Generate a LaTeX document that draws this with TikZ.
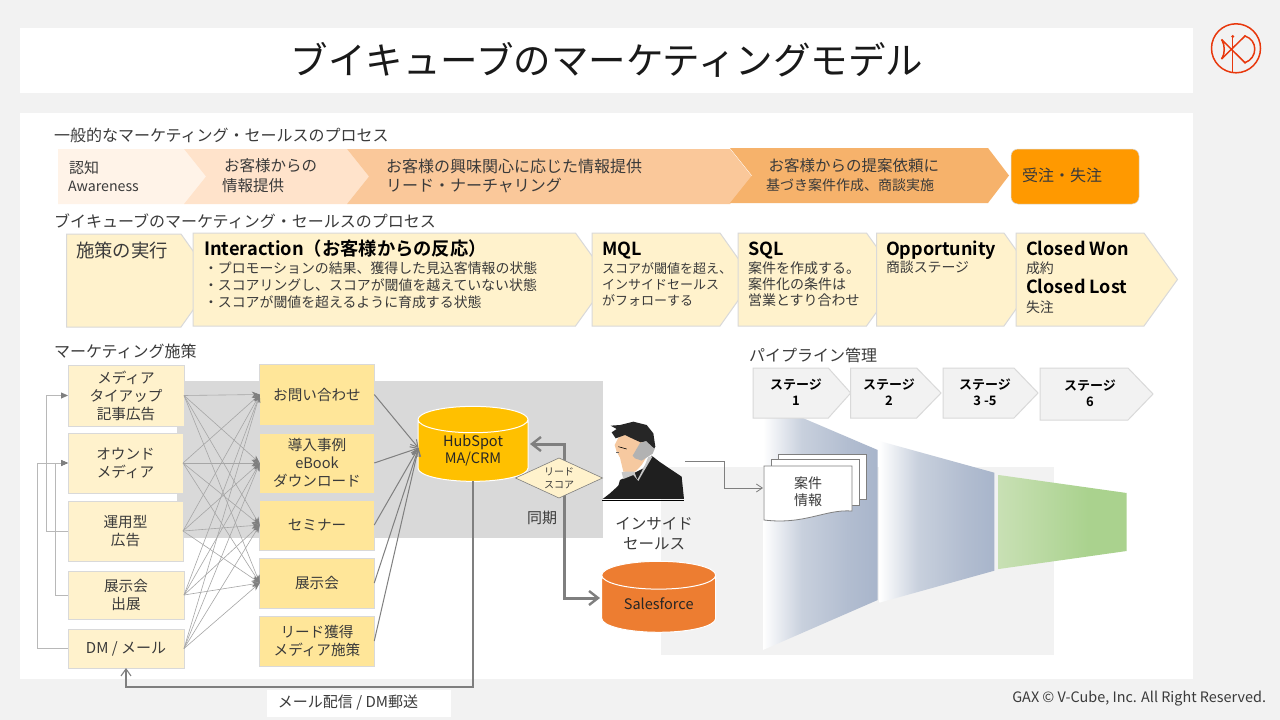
\documentclass[tikz,border=0pt]{standalone}
\usepackage{fontspec}
\setmainfont{Noto Sans CJK JP}[BoldFont={Noto Sans CJK JP Bold}]
\usetikzlibrary{arrows.meta,shapes.geometric}
\definecolor{pagegray}{HTML}{F2F2F2}
\definecolor{zonegray}{HTML}{D9D9D9}
\definecolor{cream}{HTML}{FFF2CC}
\definecolor{butter}{HTML}{FFE699}
\definecolor{edgegray}{HTML}{D9D9D9}
\definecolor{linkgray}{HTML}{A6A6A6}
\definecolor{darkgray}{HTML}{7F7F7F}
\definecolor{ink}{HTML}{3A3A3A}
\definecolor{logored}{HTML}{E8380D}
\definecolor{skin}{HTML}{F6C9A0}
\definecolor{fbzero}{HTML}{FFFFFF}
\definecolor{fbone}{HTML}{C8D0DD}
\definecolor{fbtwo}{HTML}{B2BDD0}
\definecolor{fbthree}{HTML}{A8B5CB}
\definecolor{fgzero}{HTML}{C8E0B4}
\definecolor{fgone}{HTML}{AAD28E}
\pgfdeclarehorizontalshading{funnelblue}{100bp}{color(0bp)=(fbzero); color(25bp)=(fbzero); color(42bp)=(fbone); color(62bp)=(fbtwo); color(75bp)=(fbthree); color(100bp)=(fbthree)}
\pgfdeclarehorizontalshading{funnelgreen}{100bp}{color(0bp)=(fgzero); color(25bp)=(fgzero); color(60bp)=(fgone); color(100bp)=(fgone)}
\newcommand\fs[2]{\fontsize{#1}{#2}\selectfont}
\newcommand\pentshape[6]{% style, x0, x1, tip, y0, y1
  \path[#1] (#2,#5) -- (#3,#5) -- (#4,{(#5+#6)/2}) -- (#3,#6) -- (#2,#6) -- cycle;}
\newcommand\chevshape[7]{% style, x0, notch, x1, tip, y0, y1
  \path[#1] (#2,#6) -- (#4,#6) -- (#5,{(#6+#7)/2}) -- (#4,#7) -- (#2,#7) -- (#3,{(#6+#7)/2}) -- cycle;}
\tikzset{
  x=1pt,y=-1pt,
  every node/.style={inner sep=0pt,outer sep=0pt,text=ink},
  lbl/.style={anchor=west,align=left},
  creambox/.style={draw=edgegray,line width=1pt,fill=cream,align=center,font=\fs{14.6}{18}},
  butterbox/.style={draw=edgegray,line width=1pt,fill=butter,align=center,font=\fs{14.6}{18}},
  pent/.style={draw=edgegray,line width=1pt,fill=cream},
  stagepent/.style={draw=edgegray,line width=1pt,fill=pagegray},
  section/.style={lbl,font=\fs{16}{20}},
  row/.style={lbl,font=\fs{15.5}{19}},
  boldhead/.style={lbl,font=\fs{18}{22}\bfseries,text=black,text height=14pt,text depth=0pt},
  small/.style={lbl,font=\fs{13.9}{16.5}},
  stagelbl/.style={align=center,font=\fs{13}{16}\bfseries,text=black},
  thinlink/.style={draw=linkgray,line width=.6pt,-{Stealth[length=8pt,width=6pt,color=darkgray]}},
  feedback/.style={draw=linkgray!80,line width=.8pt,-{Triangle[length=7pt,width=6pt,color=darkgray]}},
  tohub/.style={draw=darkgray,line width=1pt,-{Straight Barb[length=7pt,width=8pt]}},
  syncarrow/.style={draw=darkgray,line width=3pt,-{Straight Barb[length=9pt,width=14pt,line width=2.4pt]}},
  sheet/.style={draw=darkgray,line width=.8pt,fill=white},
}
\begin{document}
\begin{tikzpicture}
\useasboundingbox (0,0) rectangle (1280,720);
\fill[pagegray] (0,0) rectangle (1280,720);
\fill[white] (20,28) rectangle (1193,93);
\fill[white] (20,113) rectangle (1193,679);
\fill[white] (266.5,690) rectangle (451,717);
\node[font=\fs{37.5}{44},text=black!90] (title) at (607,60) {ブイキューブのマーケティングモデル};
% logo
\begin{scope}[draw=logored,line width=1.5pt]
\draw (1236,48.3) circle (24.5);
\draw (1232.7,37) -- (1232.7,73);
\draw (1222,40) -- (1245,62.7);
\draw (1222,58.5) -- (1245,36);
\draw (1222,40) .. controls (1225,46) and (1225,53) .. (1222,58.5);
\draw (1245,36) .. controls (1258,40) and (1258,58) .. (1245,62.7);
\fill[logored] (1232.7,36.5) circle (1.7) (1222,40) circle (1.2) (1222,58.5) circle (1.2) (1245,36) circle (1.2) (1245,62.7) circle (1.2);
\end{scope}
% section 1
\node[section] (s1) at (54,135) {一般的なマーケティング・セールスのプロセス};
\pentshape{fill={rgb,255:red,255;green,243;blue,232}}{58}{184}{206}{149}{204}
\chevshape{fill={rgb,255:red,255;green,227;blue,203}}{184}{206}{347}{369}{149}{204}
\chevshape{fill={rgb,255:red,250;green,200;blue,154}}{347}{369}{730}{752}{149}{204}
\chevshape{fill={rgb,255:red,246;green,178;blue,107}}{730}{752}{988}{1009}{148}{203}
\node[lbl,font=\fs{15}{19}] (a1) at (69,168) {認知};
\node[lbl,font=\fs{14.2}{18}] (a2) at (68,186) {Awareness};
\node[row] (b1) at (224,166) {お客様からの};
\node[row] (b2) at (222,186) {情報提供};
\node[lbl,font=\fs{16}{19}] (c1) at (386,166) {お客様の興味関心に応じた情報提供};
\node[lbl,font=\fs{16}{19}] (c2) at (386,185) {リード・ナーチャリング};
\node[row] (d1) at (768.5,166) {お客様からの提案依頼に};
\node[lbl,font=\fs{14}{18}] (d2) at (766,185) {基づき案件作成、商談実施};
\draw[draw=edgegray,line width=.5pt,fill={rgb,255:red,255;green,153;blue,0},rounded corners=7pt] (1011,149) rectangle (1139,204);
\node[lbl,font=\fs{16}{19}] (e1) at (1022,175) {受注・失注};
% section 2
\node[section] (s2) at (54,221) {ブイキューブのマーケティング・セールスのプロセス};
\pentshape{pent}{66.5}{181}{214}{234}{327}
\pentshape{pent}{193}{575.5}{609}{233}{326}
\pentshape{pent}{592}{720}{753}{233}{326}
\pentshape{pent}{738}{866.5}{900}{233}{326}
\pentshape{pent}{876.5}{1004}{1037}{233}{326}
\pentshape{pent}{1016}{1144}{1177.5}{233}{326}
\node[lbl,font=\fs{18.4}{22}] (p0) at (76,250) {施策の実行};
\node[boldhead,font=\fs{18.3}{22}\bfseries] (p1) at (204,248) {Interaction（お客様からの反応）};
\node[small] (p1a) at (204,268) {・プロモーションの結果、獲得した見込客情報の状態};
\node[small] (p1b) at (204,285) {・スコアリングし、スコアが閾値を越えていない状態};
\node[small] (p1c) at (204,302) {・スコアが閾値を超えるように育成する状態};
\node[boldhead] (p2) at (602,248) {MQL};
\node[lbl,font=\fs{13}{16}] (p2a) at (602,284) {スコアが閾値を超え、\\インサイドセールス\\がフォローする};
\node[boldhead] (p3) at (748,248) {SQL};
\node[lbl,font=\fs{14}{16}] (p3a) at (748,284) {案件を作成する。\\案件化の条件は\\営業とすり合わせ};
\node[boldhead] (p4) at (886,248) {Opportunity};
\node[small] (p4a) at (886,267) {商談ステージ};
\node[boldhead] (p5) at (1026,248) {Closed Won};
\node[small] (p5a) at (1026,268) {成約};
\node[boldhead] (p5b) at (1026,286.5) {Closed Lost};
\node[small] (p5c) at (1026,307) {失注};
% zones
\fill[zonegray] (177,381) rectangle (603,538);
\fill[pagegray] (661,467) rectangle (1054,655);
\node[section] (s3) at (54,351) {マーケティング施策};
\node[section] (s4) at (749,355) {パイプライン管理};
% funnel
\shade[shading=funnelblue] (763,401) -- (877.7,450) -- (877.7,600) -- (763,650) -- cycle;
\shade[shading=funnelblue] (879.3,441) -- (994.3,472.7) -- (994.3,570.7) -- (879.3,602.7) -- cycle;
\shade[shading=funnelgreen] (998.7,475) -- (1126.7,493) -- (1126.7,551) -- (998.7,569) -- cycle;
% stages
\pentshape{stagepent}{753}{828.3}{850.7}{368}{418}
\pentshape{stagepent}{850.7}{916.7}{941}{368}{418}
\pentshape{stagepent}{943}{1014}{1038}{368}{418}
\pentshape{stagepent}{1040}{1128}{1153}{368}{420}
\node[stagelbl] (st1) at (796,392) {ステージ\\1};
\node[stagelbl] (st2) at (889,392) {ステージ\\2};
\node[stagelbl] (st3) at (985,392) {ステージ\\3 -5};
\node[stagelbl] (st4) at (1090,393) {ステージ\\6};
% left boxes
\node[creambox,minimum width=116pt,minimum height=61pt] (l1) at (126,395.5) {メディア\\タイアップ\\記事広告};
\node[creambox,minimum width=115pt,minimum height=60pt] (l2) at (125.5,463) {オウンド\\メディア};
\node[creambox,minimum width=115pt,minimum height=60pt] (l3) at (125.5,531) {運用型\\広告};
\node[creambox,minimum width=116pt,minimum height=48pt] (l4) at (126,595) {展示会\\出展};
\node[creambox,minimum width=116pt,minimum height=39pt,font=\fs{15}{18}] (l5) at (126,648.5) {DM / メール};
% middle boxes
\node[butterbox,minimum width=114.5pt,minimum height=61pt] (m1) at (317,394.5) {お問い合わせ};
\node[butterbox,minimum width=114.5pt,minimum height=60pt] (m2) at (317,463) {導入事例\\eBook\\ダウンロード};
\node[butterbox,minimum width=114.5pt,minimum height=50pt] (m3) at (317,525) {セミナー};
\node[butterbox,minimum width=114.5pt,minimum height=50pt] (m4) at (317,583) {展示会};
\node[butterbox,minimum width=114.5pt,minimum height=50pt] (m5) at (317,641) {リード獲得\\メディア施策};
% thin links
\foreach \s in {l1,l2,l3,l4,l5} \foreach \t in {m1,m2,m3,m4} \draw[thinlink] (\s.east) -- (\t.west);
% feedback
\draw[feedback] (l3.west) -- ++(-22,0) |- (l1.west);
\draw[feedback] (l4.west) -- ++(-13,0) |- (l2.west);
\draw[feedback] (l5.west) -- ++(-31,0) |- (l2.west);
% cylinders
\node[cylinder,shape border rotate=90,aspect=.44,draw=white,line width=1pt,fill={rgb,255:red,255;green,192;blue,0},minimum width=110pt,minimum height=75pt,align=center,font=\fs{14.5}{17.5},text=black!85] (hub) at (473,450.7) {HubSpot\\MA/CRM};
\node[cylinder,shape border rotate=90,aspect=.4,draw=white,line width=1pt,fill={rgb,255:red,237;green,125;blue,49},minimum width=114pt,minimum height=71pt,font=\fs{14.5}{17.5},text=black!85] (sf) at (658.7,604) {Salesforce};
\coordinate (hubw) at (418.5,448);
\foreach \t in {m1,m2,m3,m4,m5} \draw[tohub] (\t.east) -- (hubw);
% sync
\coordinate (sync) at (564.7,478);
\coordinate (hubin) at (530,444);
\coordinate (sfin) at (600,598);
\draw[syncarrow] (sync) |- (hubin);
\draw[syncarrow] (sync) |- (sfin);
\node[diamond,aspect=2.17,draw=darkgray,line width=.6pt,fill=cream,minimum width=87pt,minimum height=40pt,align=center,font=\fs{10}{13}] (score) at (559,478) {リード\\スコア};
\node[font=\fs{15}{19}] (sync label) at (542,518) {同期};
% mail line
\coordinate (mb1) at (hub.south |- 0,687);
\coordinate (mb2) at (l5.south |- 0,687);
\draw[draw=darkgray,line width=1.1pt,-{Straight Barb[length=7pt,width=10pt]}] (hub.south) -- (mb1) -- (mb2) -- (l5.south);
\node[font=\fs{15}{18}] (mail) at (348,703) {メール配信 / DM郵送};
% person
\begin{scope}[shift={(600,415)},x=.3333pt,y=-.3333pt]
\fill[black!88] (8,252) -- (30,235) -- (55,212) -- (60,195) -- (100,175) -- (130,160) -- (155,122) -- (178,140) -- (215,165) -- (245,185) -- (252,252) -- cycle;
\fill[black!22] (65,172) -- (100,162) -- (112,195) -- (135,150) -- (145,125) -- (158,124) -- (128,175) -- (115,198) -- (100,180) -- (70,192) -- cycle;
\fill[skin] (44,90) -- (55,68) -- (90,50) -- (128,72) -- (140,125) -- (125,150) -- (106,170) -- (70,170) -- (60,128) -- (50,110) -- cycle;
\fill[black!85] (35,52) -- (50,42) -- (32,32) -- (60,30) -- (100,20) -- (140,30) -- (160,55) -- (166,95) -- (156,112) -- (135,80) -- (122,82) -- (100,72) -- (75,60) -- (47,70) -- cycle;
\fill[black!30] (98,122) -- (120,84) -- (138,78) -- (164,102) -- (158,116) -- (125,137) -- (105,130) -- cycle;
\draw[black,line width=.6pt] (55,95) -- (80,102);
\draw[black!60,line width=.5pt] (48,112) -- (58,112);
\end{scope}
\coordinate (person base left) at (602,500);
\coordinate (person base right) at (684,500);
\draw[black,line width=.8pt] (person base left) -- (person base right);
\node[align=center,font=\fs{15.5}{19.5}] (isales) at (654,533.5) {インサイド\\セールス};
\coordinate (phone) at (685,461);
\coordinate (ibend) at (724,488);
\coordinate (docin) at (763,488);
\draw[draw=darkgray,line width=.8pt,-{Straight Barb[length=6pt,width=8pt]}] (phone) -| (ibend) -- (docin);
% document stack
\path[sheet] (778,454) -- (866.7,454) -- (866.7,499) -- (778,499) -- cycle;
\path[sheet] (771.7,459) -- (859,459) -- (859,505) -- (771.7,505) -- cycle;
\path[sheet] (764,466) -- (852,466) -- (852,511) .. controls (825,509) and (805,525) .. (764,520) -- cycle;
\node[align=center,font=\fs{14}{17}] (doc) at (808,491.5) {案件\\情報};
\node[anchor=east,font=\fs{14.4}{17}] (footer) at (1266,699) {GAX © V-Cube, Inc. All Right Reserved.};
\end{tikzpicture}
\end{document}
